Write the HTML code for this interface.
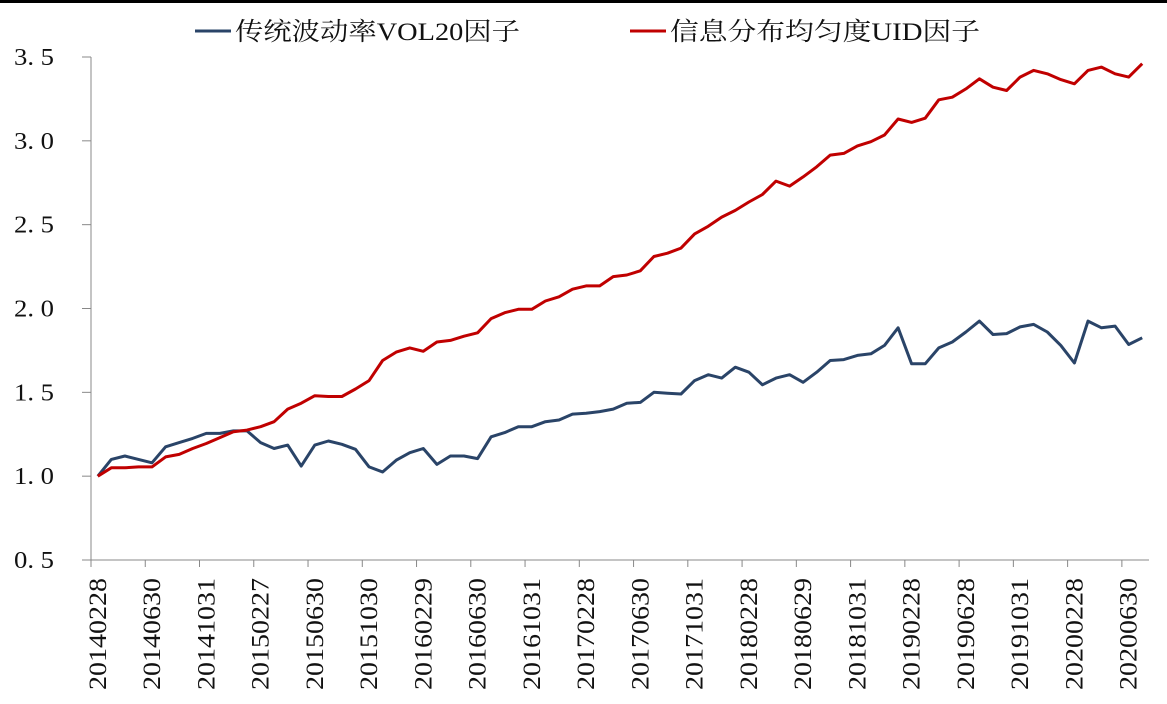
<!DOCTYPE html>
<html><head><meta charset="utf-8"><style>
html,body{margin:0;padding:0;background:#fff;}
svg text{font-family:"Liberation Serif","Noto Serif CJK SC",serif;fill:#111;}
</style></head><body>
<svg id="chart" width="1167" height="699" xmlns="http://www.w3.org/2000/svg">
<rect x="0" y="0" width="1167" height="3" fill="#000"/>
<g>
<line x1="195" y1="31" x2="231" y2="31" stroke="#2a4468" stroke-width="3"/>
<text x="235" y="40" font-size="25" textLength="285" lengthAdjust="spacingAndGlyphs">传统波动率VOL20因子</text>
<line x1="630" y1="31" x2="666" y2="31" stroke="#c00000" stroke-width="3"/>
<text x="670" y="40" font-size="25" textLength="310" lengthAdjust="spacingAndGlyphs">信息分布均匀度UID因子</text>
</g>
<g id="axes"></g>
<g id="series"></g>
</svg>
<script>
const months = ["20140228","20140331","20140430","20140530","20140630","20140731","20140829","20140930","20141031","20141128","20141231","20150130","20150227","20150331","20150430","20150529","20150630","20150731","20150831","20150930","20151030","20151130","20151231","20160129","20160229","20160331","20160429","20160531","20160630","20160729","20160831","20160930","20161031","20161130","20161230","20170126","20170228","20170331","20170428","20170531","20170630","20170731","20170831","20170929","20171031","20171130","20171229","20180131","20180228","20180330","20180427","20180531","20180629","20180731","20180831","20180928","20181031","20181130","20181228","20190131","20190228","20190329","20190430","20190531","20190628","20190731","20190830","20190930","20191031","20191129","20191231","20200123","20200228","20200331","20200430","20200529","20200630","20200731"];
const vol20 = [1.00,1.10,1.12,1.10,1.08,1.175,1.20,1.225,1.255,1.255,1.27,1.27,1.20,1.165,1.185,1.06,1.185,1.21,1.19,1.16,1.055,1.025,1.095,1.14,1.165,1.07,1.12,1.12,1.105,1.235,1.26,1.295,1.295,1.325,1.335,1.37,1.375,1.385,1.40,1.435,1.44,1.50,1.495,1.49,1.57,1.605,1.585,1.65,1.62,1.545,1.585,1.605,1.56,1.62,1.69,1.695,1.72,1.73,1.78,1.885,1.67,1.67,1.765,1.80,1.86,1.925,1.845,1.85,1.89,1.905,1.86,1.78,1.675,1.925,1.885,1.895,1.785,1.825];
const uid = [1.00,1.05,1.05,1.055,1.055,1.115,1.13,1.165,1.195,1.23,1.265,1.275,1.295,1.325,1.40,1.435,1.48,1.475,1.475,1.52,1.57,1.69,1.74,1.765,1.745,1.80,1.81,1.835,1.855,1.94,1.975,1.995,1.995,2.045,2.07,2.115,2.135,2.135,2.19,2.20,2.225,2.31,2.33,2.36,2.445,2.49,2.545,2.585,2.635,2.68,2.76,2.73,2.785,2.845,2.915,2.925,2.97,2.995,3.035,3.13,3.11,3.135,3.245,3.26,3.31,3.37,3.32,3.30,3.38,3.42,3.40,3.365,3.34,3.42,3.44,3.40,3.38,3.46];
const yTicks = [0.5,1.0,1.5,2.0,2.5,3.0,3.5];
const yTickLabels = ["0. 5","1. 0","1. 5","2. 0","2. 5","3. 0","3. 5"];

const NS="http://www.w3.org/2000/svg";
const L=91, R=1149, T=57, B=560, YMIN=0.5, YMAX=3.5;
const step=(R-L)/months.length;
function xPos(i){return L+step*(i+0.5);}
function yPos(v){return B-(v-YMIN)/(YMAX-YMIN)*(B-T);}
function mk(tag,attrs,parent){const e=document.createElementNS(NS,tag);for(const k in attrs)e.setAttribute(k,attrs[k]);parent.appendChild(e);return e;}
const axes=document.getElementById('axes'), series=document.getElementById('series');

let yAxis=mk('line',{x1:L,y1:T,x2:L,y2:B,stroke:'#888','stroke-width':1},axes);


let xAxis=mk('line',{x1:L-9,y1:B,x2:R,y2:B,stroke:'#888','stroke-width':1},axes);



yTicks.forEach((v,i)=>{
  const y=yPos(v);
  const t=mk('line',{x1:L-9,y1:y,x2:L,y2:y,stroke:'#888','stroke-width':1},axes);
  
  
  const lb=mk('text',{x:14,y:y+8,'font-size':24,textLength:40,lengthAdjust:'spacingAndGlyphs'},axes);
  lb.textContent=yTickLabels[i];
  
  
});

for(let i=0;i<months.length;i+=4){
  const xt=L+step*i;
  const t=mk('line',{x1:xt,y1:B,x2:xt,y2:B+7,stroke:'#888','stroke-width':1},axes);
  
  
  const cx=xPos(i)+8;
  const lb=mk('text',{x:cx,y:690,'font-size':25,textLength:112,lengthAdjust:'spacingAndGlyphs',transform:`rotate(-90 ${cx} 690)`},axes);
  lb.textContent=months[i];
  
  
}

function line(data,color,name){
  const d=data.map((v,i)=>(i?'L':'M')+xPos(i).toFixed(1)+' '+yPos(v).toFixed(1)).join(' ');
  const p=mk('path',{d:d,fill:'none',stroke:color,'stroke-width':3,'stroke-linejoin':'round'},series);
  
  
}
line(vol20,'#2a4468','series-vol20');
line(uid,'#c00000','series-uid');
</script>
</body></html>
